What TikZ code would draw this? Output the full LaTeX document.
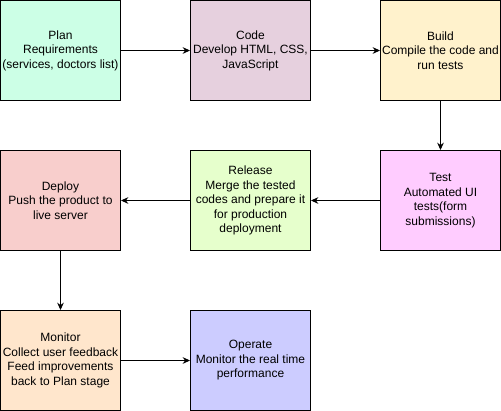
\documentclass[tikz,border=0pt]{standalone}
\usepackage{fontspec}
\setmainfont{Liberation Sans}
\usetikzlibrary{arrows.meta}
\definecolor{devPlanFill}{HTML}{CCFFE6}
\definecolor{devCodeFill}{HTML}{E6D0DE}
\definecolor{devBuildFill}{HTML}{FFF2CC}
\definecolor{devTestFill}{HTML}{FFCCFF}
\definecolor{devReleaseFill}{HTML}{E6FFCC}
\definecolor{devDeployFill}{HTML}{F8CECC}
\definecolor{devMonitorFill}{HTML}{FFE6CC}
\definecolor{devOperateFill}{HTML}{CCCCFF}
\definecolor{devLine}{HTML}{000000}

\begin{document}
\begin{tikzpicture}[x=0.75pt, y=-0.75pt,
  stagebox/.style={draw=devLine, line width=0.75pt, minimum width=90pt,
    minimum height=75pt, inner sep=0pt, align=center,
    font=\fontsize{9}{10.9}\selectfont},
  flow/.style={-{Stealth[length=5.5pt, width=5pt]}, devLine, line width=0.75pt}]

% --- PARAMETERS ---
\def\colA{60}               % left column centre
\def\colB{250}              % middle column centre
\def\colC{440}              % right column centre
\def\rowA{50}               % top row centre
\def\rowB{200}              % middle row centre
\def\rowC{360}              % bottom row centre

\useasboundingbox (-0.5,-0.5) rectangle (500.5,410.5);

% --- TOP ROW ---
\node[stagebox, fill=devPlanFill] (plan) at (\colA, \rowA)
  {Plan\\Requirements\\(services, doctors list)};
\node[stagebox, fill=devCodeFill] (code) at (\colB, \rowA)
  {Code\\Develop HTML, CSS,\\JavaScript};
\node[stagebox, fill=devBuildFill] (build) at (\colC, \rowA)
  {Build\\Compile the code and\\run tests};

% --- MIDDLE ROW ---
\node[stagebox, fill=devTestFill] (test) at (\colC, \rowB)
  {Test\\Automated UI\\tests(form\\submissions)};
\node[stagebox, fill=devReleaseFill] (release) at (\colB, \rowB)
  {Release\\Merge the tested\\codes and prepare it\\for production\\deployment};
\node[stagebox, fill=devDeployFill] (deploy) at (\colA, \rowB)
  {Deploy\\Push the product to\\live server};

% --- BOTTOM ROW ---
\node[stagebox, fill=devMonitorFill] (monitor) at (\colA, \rowC)
  {Monitor\\Collect user feedback\\Feed improvements\\back to Plan stage};
\node[stagebox, fill=devOperateFill] (operate) at (\colB, \rowC)
  {Operate\\Monitor the real time\\performance};

% --- CONNECTORS ---
\draw[flow] (plan) -- (code);
\draw[flow] (code) -- (build);
\draw[flow] (build) -- (test);
\draw[flow] (test) -- (release);
\draw[flow] (release) -- (deploy);
\draw[flow] (deploy) -- (monitor);
\draw[flow] (monitor) -- (operate);

\end{tikzpicture}
\end{document}
